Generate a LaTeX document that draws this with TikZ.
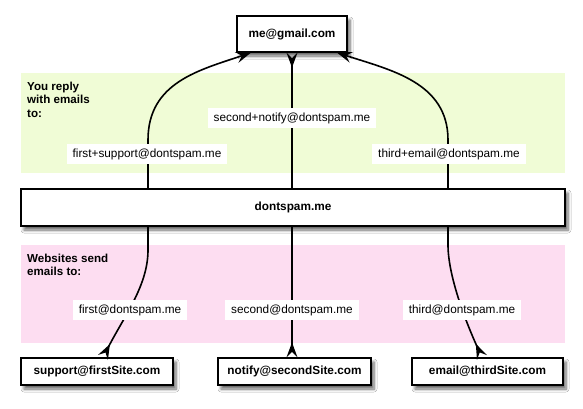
\documentclass[tikz,border=0pt]{standalone}
\usepackage{fontspec}
\setmainfont{Liberation Sans}
\usetikzlibrary{arrows.meta,shadows.blur}
\definecolor{bandgreen}{RGB}{240,252,214}
\definecolor{bandpink}{RGB}{253,221,241}
\tikzset{
  box/.style={draw=black, line width=1.2pt, fill=white, inner sep=0pt,
    font=\fontsize{11.8}{14}\selectfont\bfseries,
    blur shadow={shadow xshift=3pt, shadow yshift=-4pt, shadow blur steps=6, shadow blur radius=3pt, shadow opacity=60}},
  lbl/.style={fill=white, font=\fontsize{11.8}{14}\selectfont, inner xsep=6pt, inner ysep=4pt,
    text height=9pt, text depth=2.5pt},
  bandtitle/.style={anchor=north west, inner sep=0pt, align=left,
    font=\fontsize{11.6}{13.3}\selectfont\bfseries},
  conn/.style={line width=1.6pt},
  fwd/.style={-{Stealth[length=15pt,width=11pt,inset=5.5pt]}},
  rev/.style={{Stealth[length=15pt,width=11pt,inset=5.5pt,reversed]}-},
}
\begin{document}
\begin{tikzpicture}[x=1pt,y=-1pt]
\useasboundingbox[fill=white] (0,0) rectangle (583,408);
% bands
\fill[bandgreen] (21,73) rectangle (565,173);
\fill[bandpink] (21,245) rectangle (565,343);
\node[bandtitle] (t1) at (27,82) {You reply\\with emails\\to:};
\node[bandtitle] (t2) at (27,254) {Websites send\\emails to:};
% boxes
\node[box, minimum width=110pt, minimum height=36pt] (gmail) at (292,34) {me@gmail.com};
\node[box, minimum width=544pt, minimum height=37pt] (dont) at (293,207.5) {dontspam.me};
\node[box, minimum width=152pt, minimum height=27pt] (s1) at (97,371.5) {support@firstSite.com};
\node[box, minimum width=153pt, minimum height=27pt] (s2) at (294.5,371.5) {notify@secondSite.com};
\node[box, minimum width=151pt, minimum height=27pt] (s3) at (487.5,371.5) {email@thirdSite.com};
% top connectors
\draw[conn,fwd] ([xshift=-145pt]dont.north) -- (148,140)
  .. controls (148,82) and (200,70) .. ([xshift=-41pt]gmail.south);
\draw[conn,fwd] ([xshift=155pt]dont.north) -- (448,140)
  .. controls (448,82) and (390,70) .. ([xshift=45pt]gmail.south);
\draw[conn,rev] (gmail.south) -- ([xshift=-1pt]dont.north);
% bottom connectors
\draw[conn,rev] ([xshift=6pt]s1.north) .. controls (125,315) and (148,285) .. (148,250)
  -- ([xshift=-145pt]dont.south);
\draw[conn,rev] ([xshift=-2.5pt]s2.north) -- ([xshift=-1pt]dont.south);
\draw[conn,rev] ([xshift=-5.5pt]s3.north) .. controls (465,320) and (448,275) .. (448,245)
  -- ([xshift=155pt]dont.south);
% labels
\node[lbl] (l1) at (147,154) {first+support@dontspam.me};
\node[lbl] (l2) at (292,118) {second+notify@dontspam.me};
\node[lbl] (l3) at (449,154) {third+email@dontspam.me};
\node[lbl] (l4) at (130,310) {first@dontspam.me};
\node[lbl] (l5) at (292,310) {second@dontspam.me};
\node[lbl] (l6) at (462,310) {third@dontspam.me};
\end{tikzpicture}
\end{document}
